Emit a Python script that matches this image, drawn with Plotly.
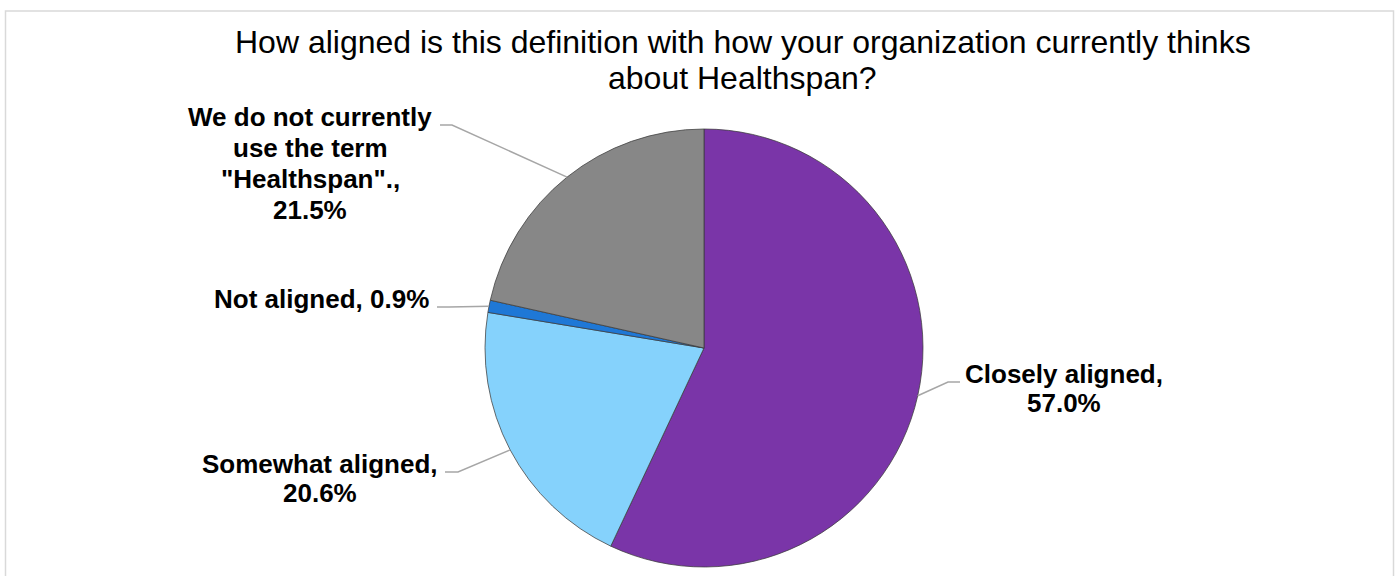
import math
import plotly.graph_objects as go

# Survey responses, in drawing order (clockwise from 12 o'clock)
categories = ["Closely aligned", "Somewhat aligned", "Not aligned",
              "We do not currently use the term \"Healthspan\"."]
shares = [57.0, 20.6, 0.9, 21.5]
colors = ["#7A35A8", "#85D2FC", "#1F78D6", "#878787"]

# Text of each outside label, one entry per line
label_lines = [
    ["Closely aligned,", "57.0%"],
    ["Somewhat aligned,", "20.6%"],
    ["Not aligned, 0.9%"],
    ["We do not currently", "use the term", "\"Healthspan\".,", "21.5%"],
]
title_lines = ["How aligned is this definition with how your organization currently thinks",
               "about Healthspan?"]

W, H = 1397, 576
CX, CY, R = 704, 348, 219          # pie centre and radius in pixels


def px(x):
    return x / W


def py(y):
    return 1 - y / H


# Label placement (pixels): centre x, first-line y, line pitch, leader start, elbow
label_layout = [
    dict(x=1064, y=374, pitch=29, start=(960, 382), elbow=(948, 382)),
    dict(x=320, y=464, pitch=29, start=(445, 472), elbow=(458, 472)),
    dict(x=321, y=299, pitch=31, start=(437, 307), elbow=(449, 307)),
    dict(x=310, y=117, pitch=31, start=(440, 125), elbow=(452, 125)),
]

fig = go.Figure(go.Pie(
    labels=categories,
    values=shares,
    sort=False,
    direction="clockwise",
    rotation=0,
    marker=dict(colors=colors, line=dict(color="rgba(60,60,60,0.75)", width=1)),
    textinfo="none",
    hoverinfo="label+percent",
    showlegend=False,
    domain=dict(x=[px(CX - R), px(CX + R)], y=[py(CY + R), py(CY - R)]),
))

annotations = []
shapes = []

# Outer chart frame
shapes.append(dict(type="rect", xref="paper", yref="paper",
                   x0=px(5.5), x1=px(1393.5), y0=-0.05, y1=py(11),
                   line=dict(color="#D9D9D9", width=1.5), fillcolor="rgba(0,0,0,0)"))

# Title, one annotation per line
title_y = [42, 78]
for text, ty in zip(title_lines, title_y):
    annotations.append(dict(text=text, x=px(742.5), y=py(ty), xref="paper", yref="paper",
                            xanchor="center", yanchor="middle", showarrow=False,
                            font=dict(family="Liberation Sans, Arial", size=32, color="#000000")))

# Outside labels with leader lines running to each slice's mid-angle on the rim
total = sum(shares)
cum = 0.0
for value, lines, lay in zip(shares, label_lines, label_layout):
    mid = (cum + value / 2) / total * 2 * math.pi
    cum += value
    ex = CX + R * math.sin(mid)
    ey = CY - R * math.cos(mid)
    sx, sy = lay["start"]
    bx, by = lay["elbow"]
    path = f"M {px(sx)},{py(sy)} L {px(bx)},{py(by)} L {px(ex)},{py(ey)}"
    shapes.append(dict(type="path", xref="paper", yref="paper", path=path,
                       line=dict(color="#A6A6A6", width=1.5)))
    for i, text in enumerate(lines):
        annotations.append(dict(text=f"<b>{text}</b>", x=px(lay["x"]),
                                y=py(lay["y"] + i * lay["pitch"]),
                                xref="paper", yref="paper", xanchor="center", yanchor="middle",
                                showarrow=False,
                                font=dict(family="Liberation Sans, Arial", size=26, color="#000000")))

fig.update_layout(
    width=W, height=H,
    margin=dict(l=0, r=0, t=0, b=0),
    paper_bgcolor="#FFFFFF",
    plot_bgcolor="#FFFFFF",
    annotations=annotations,
    shapes=shapes,
)

fig.write_html("out.html")
